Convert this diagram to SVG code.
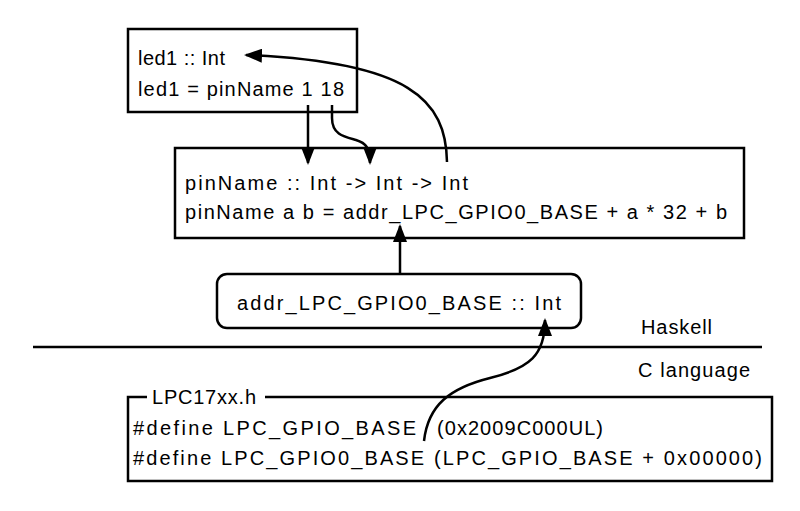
<svg xmlns="http://www.w3.org/2000/svg" width="800" height="511" viewBox="0 0 800 511">
<defs>
<style>
.box{fill:#fff;stroke:#000;stroke-width:2.5}
.t{font-family:"Liberation Sans","DejaVu Sans",sans-serif;font-size:20px;fill:#000}
.c{fill:none;stroke:#000;stroke-width:2.5}
</style>
<marker id="ah" markerUnits="userSpaceOnUse" markerWidth="19" markerHeight="14" refX="16" refY="7" orient="auto">
<path d="M0,0 L18,7 L0,14 z" fill="#000"/>
</marker>
</defs>
<rect width="800" height="511" fill="#fff"/>
<g id="led1">
<rect class="box" x="128" y="29" width="229" height="83"/>
<text class="t" x="138" y="65" textLength="87">led1 :: Int</text>
<text class="t" x="138" y="96" textLength="206">led1 = pinName 1 18</text>
</g>
<g id="pinName">
<rect class="box" x="175" y="148" width="569" height="90"/>
<text class="t" x="185" y="190" textLength="283">pinName :: Int -&gt; Int -&gt; Int</text>
<text class="t" x="185" y="219" textLength="542">pinName a b = addr_LPC_GPIO0_BASE + a * 32 + b</text>
</g>
<g id="addr">
<rect class="box" x="217" y="274" width="364" height="54" rx="10" ry="10"/>
<text class="t" x="237" y="310" textLength="324">addr_LPC_GPIO0_BASE :: Int</text>
</g>
<g id="separator">
<line x1="33" y1="347" x2="762" y2="347" stroke="#000" stroke-width="2.5"/>
<text class="t" x="641" y="334" textLength="71">Haskell</text>
<text class="t" x="638" y="377" textLength="112">C language</text>
</g>
<g id="lpc17xx">
<path class="c" d="M147,397 L128,397 L128,481 L772,481 L772,397 L265,397"/>
<text class="t" x="152" y="404" textLength="104">LPC17xx.h</text>
<text class="t" x="133" y="435"><tspan textLength="283">#define LPC_GPIO_BASE</tspan><tspan x="437" textLength="166">(0x2009C000UL)</tspan></text>
<text class="t" x="133" y="465" textLength="629">#define LPC_GPIO0_BASE (LPC_GPIO_BASE + 0x00000)</text>
</g>
<g id="connectors">
<path class="c" d="M308,105 L308,163" marker-end="url(#ah)"/>
<path class="c" d="M332,105 L332,118 C332,135 345,137 356,140 C366,143 370,148 370,163" marker-end="url(#ah)"/>
<path class="c" d="M447,162 C446,100 410,62 246,55" marker-end="url(#ah)"/>
<path class="c" d="M400,274 L400,226" marker-end="url(#ah)"/>
<path class="c" d="M424,441 C428,405 450,388 490,378 C530,368 545,355 545,320" marker-end="url(#ah)"/>
</g>
</svg>
